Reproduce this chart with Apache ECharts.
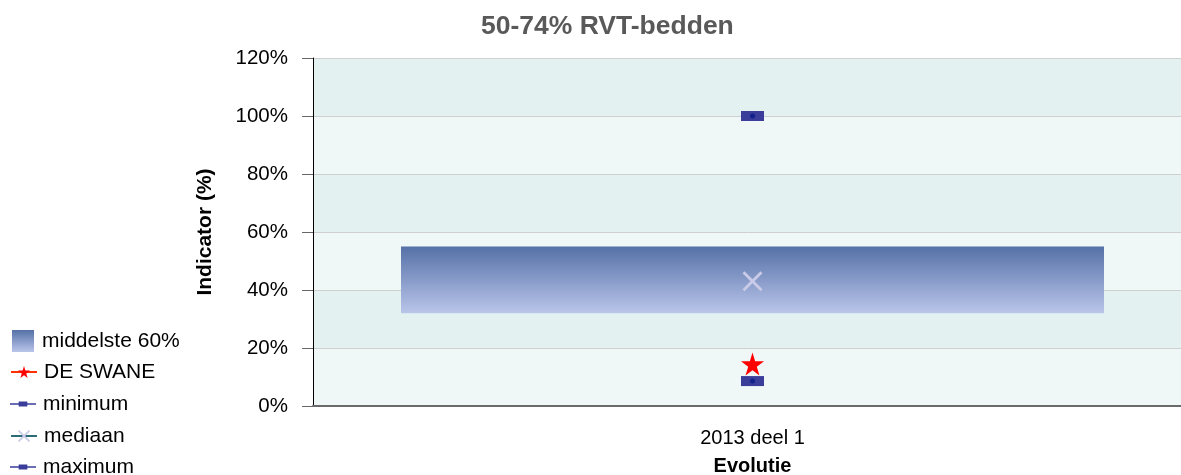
<!DOCTYPE html>
<html>
<head>
<meta charset="utf-8">
<script src="https://cdn.jsdelivr.net/npm/echarts@6/dist/echarts.min.js"></script>
<style>
    html, body { margin: 0; padding: 0; background: #fff; }
    #chart { width: 1181px; height: 475px; }
</style>
</head>
<body>
<div id="chart"></div>
<script>
// data
const categories = ['2013 deel 1']
const boxLow = [32]
const boxHigh = [55]
const swane = [14.5]
const minimum = [8.6]
const mediaan = [43]
const maximum = [100]

const FONT = '"Liberation Sans", Arial, sans-serif'
const crossPath = 'path://M0,2L2,0L10,8L18,0L20,2L12,10L20,18L18,20L10,12L2,20L0,18L8,10Z'
const starPath = 'path://M50,0L61,35L98,35L68,57L79,91L50,70L21,91L32,57L2,35L39,35Z'
// legend icon: thin line with a small block in the middle
const lineRectIcon = 'path://M0,5L30,5L30,7L0,7Z M10,3L20,3L20,9L10,9Z'

const chart = echarts.init(document.getElementById('chart'), null, { renderer: 'canvas' })

const legendText = { fontSize: 21, color: '#000', fontFamily: FONT, padding: [0, 0, 0, 2] }

// one legend per row so the list can run past the bottom edge like the original
const lineLegends = [
    { name: 'DE SWANE', top: 356.5, h: 15 },
    { name: 'minimum', top: 388.5, h: 12, icon: lineRectIcon },
    { name: 'mediaan', top: 420.5, h: 15 },
    { name: 'maximum', top: 451.5, h: 12, icon: lineRectIcon },
].map(it => ({
    orient: 'vertical',
    left: 5,
    top: it.top,
    itemWidth: 26,
    itemHeight: it.h,
    textStyle: legendText,
    data: [it.icon ? { name: it.name, icon: it.icon } : it.name],
}))

chart.setOption({
    animation: false,
    textStyle: { fontFamily: FONT },
    title: {
        text: '50-74% RVT-bedden',
        left: 476,
        top: 8,
        textStyle: { fontSize: 26.5, fontWeight: 'bold', color: '#595959', fontFamily: FONT },
    },
    legend: [
        {
            orient: 'vertical',
            left: 7,
            top: 325,
            itemWidth: 22,
            itemHeight: 22,
            textStyle: { ...legendText, padding: [0, 0, 0, 3] },
            data: [{ name: 'middelste 60%', icon: 'rect' }],
        },
        ...lineLegends,
    ],
    grid: {
        left: 313,
        width: 879,
        top: 58,
        bottom: 69,
        outerBoundsMode: 'none',
    },
    xAxis: {
        type: 'category',
        data: categories,
        name: 'Evolutie',
        nameLocation: 'middle',
        nameGap: 50,
        nameTextStyle: { fontSize: 20, fontWeight: 'bold', color: '#000' },
        axisLine: { lineStyle: { color: '#6b6b6b', width: 2 } },
        axisTick: { alignWithLabel: true, length: 10, lineStyle: { color: '#000' } },
        axisLabel: { fontSize: 20, color: '#000', margin: 22 },
    },
    yAxis: {
        type: 'value',
        min: 0,
        max: 120,
        interval: 20,
        name: 'Indicator (%)',
        nameLocation: 'middle',
        nameGap: 97,
        nameTextStyle: { fontSize: 21, fontWeight: 'bold', color: '#000' },
        axisLine: { show: true, lineStyle: { color: '#000', width: 1 } },
        axisTick: { show: true, length: 11, lineStyle: { color: '#666' } },
        axisLabel: { fontSize: 20.5, color: '#000', margin: 25, formatter: '{value}%' },
        splitLine: { lineStyle: { color: '#cfcfcf', width: 1 } },
        splitArea: { show: true, areaStyle: { color: ['#f0f8f7', '#e3f2f1'] } },
    },
    series: [
        {
            name: 'base',
            type: 'bar',
            stack: 'box',
            barWidth: 703,
            silent: true,
            itemStyle: { color: 'transparent' },
            data: boxLow,
        },
        {
            name: 'middelste 60%',
            type: 'bar',
            stack: 'box',
            barWidth: 703,
            itemStyle: {
                color: new echarts.graphic.LinearGradient(0, 0, 0, 1, [
                    { offset: 0, color: '#5571a7' },
                    { offset: 1, color: '#bac5ea' },
                ]),
            },
            data: boxHigh.map((v, i) => v - boxLow[i]),
        },
        {
            name: 'mediaan',
            type: 'line',
            symbol: crossPath,
            symbolSize: 20,
            itemStyle: { color: '#c9cbe8' },
            lineStyle: { color: '#2e6b78', width: 2.5 },
            data: mediaan,
        },
        {
            name: 'DE SWANE',
            type: 'line',
            symbol: starPath,
            symbolSize: 23,
            itemStyle: { color: '#ff0000' },
            lineStyle: { color: '#ff3300', width: 2.5 },
            data: swane,
        },
        {
            name: 'minimum',
            type: 'line',
            symbol: 'rect',
            symbolSize: [23, 10],
            itemStyle: { color: '#3a3e9a' },
            lineStyle: { color: '#1f5aa6', width: 2 },
            data: minimum,
        },
        {
            name: 'maximum',
            type: 'line',
            symbol: 'rect',
            symbolSize: [23, 10],
            itemStyle: { color: '#3a3e9a' },
            lineStyle: { color: '#1f5aa6', width: 2 },
            data: maximum,
        },
        {
            name: 'dots',
            type: 'scatter',
            symbol: 'circle',
            symbolSize: 5,
            silent: true,
            z: 10,
            itemStyle: { color: '#0a1a8a' },
            data: [minimum[0], maximum[0]].map(v => [categories[0], v]),
        },
    ],
})
</script>
</body>
</html>
